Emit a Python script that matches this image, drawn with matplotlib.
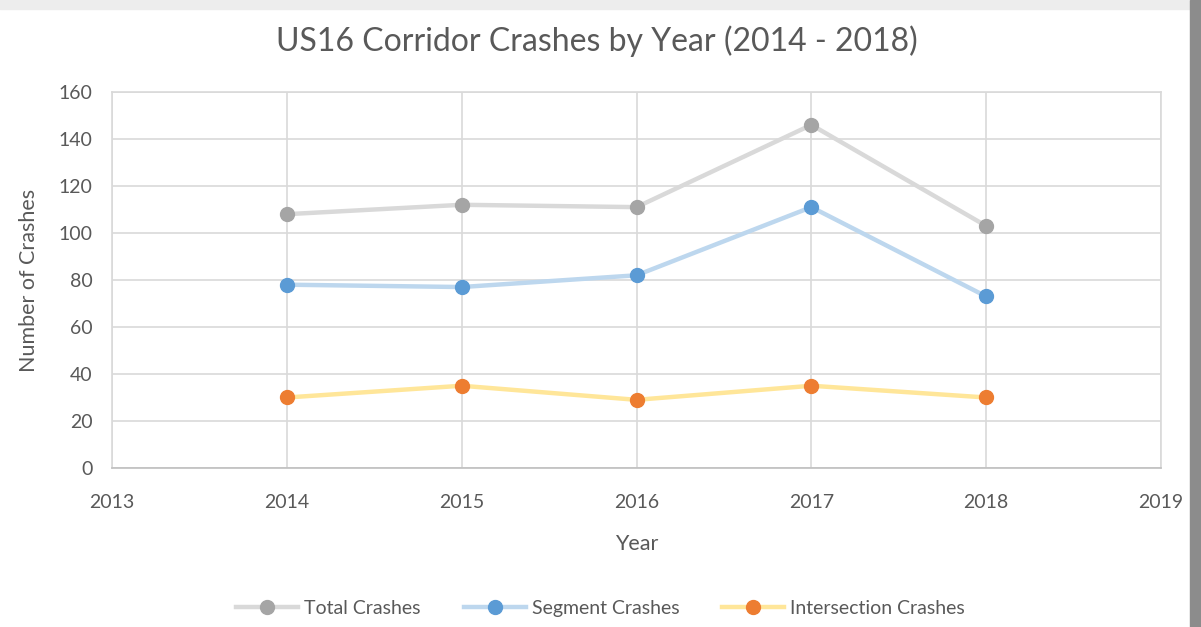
import matplotlib
matplotlib.use("Agg")
import matplotlib.pyplot as plt
from matplotlib.patches import Rectangle

plt.rcParams['font.family'] = ['Lato', 'DejaVu Sans']

years = [2014, 2015, 2016, 2017, 2018]
total = [108, 112, 111, 146, 103]
segment = [78, 77, 82, 111, 73]
intersection = [30, 35, 29, 35, 30]

series = [
    ("Total Crashes", total, "#D9D9D9", "#A5A5A5"),
    ("Segment Crashes", segment, "#BDD7EE", "#5B9BD5"),
    ("Intersection Crashes", intersection, "#FFE699", "#ED7D31"),
]

fig = plt.figure(figsize=(12.01, 6.27), dpi=100)
fig.patch.set_facecolor("white")
# frame shadow around the chart (screenshot edges)
fig.add_artist(Rectangle((0, 0.985), 1, 0.015, transform=fig.transFigure,
                         color="#EDEDED", zorder=0))
fig.add_artist(Rectangle((0.991, 0), 0.009, 1, transform=fig.transFigure,
                         color="#8C8C8C", zorder=0))

ax = fig.add_axes([0.0933, 0.2536, 0.8734, 0.5997])
for name, vals, lc, mc in series:
    ax.plot(years, vals, color=lc, lw=3.2, marker="o", markersize=10,
            markerfacecolor=mc, markeredgecolor=mc, label=name, zorder=3)

ax.set_xlim(2013, 2019)
ax.set_ylim(0, 160)
ax.set_xticks(range(2013, 2020))
ax.set_yticks(range(0, 161, 20))
ax.grid(True, color="#D9D9D9", lw=1.2, zorder=0)
for s in ax.spines.values():
    s.set_color("#D9D9D9")
    s.set_linewidth(1.2)
ax.spines["bottom"].set_color("#BFBFBF")
ax.tick_params(length=0, labelsize=14, colors="#595959")
ax.tick_params(axis="x", pad=19)
ax.tick_params(axis="y", pad=14)

fig.suptitle("US16 Corridor Crashes by Year (2014 - 2018)", x=0.497, y=0.935,
             fontsize=23, color="#595959", va="center")
ax.set_xlabel("Year", fontsize=15.5, color="#595959", labelpad=16)
ax.set_ylabel("Number of Crashes", fontsize=15.5, color="#595959", labelpad=14)

fig.legend(loc="center", bbox_to_anchor=(0.5, 0.03), ncol=3, frameon=False,
           fontsize=14, labelcolor="#595959", handlelength=3.2,
           columnspacing=2.2, handletextpad=0.3)

fig.savefig("out.png", dpi=100)
